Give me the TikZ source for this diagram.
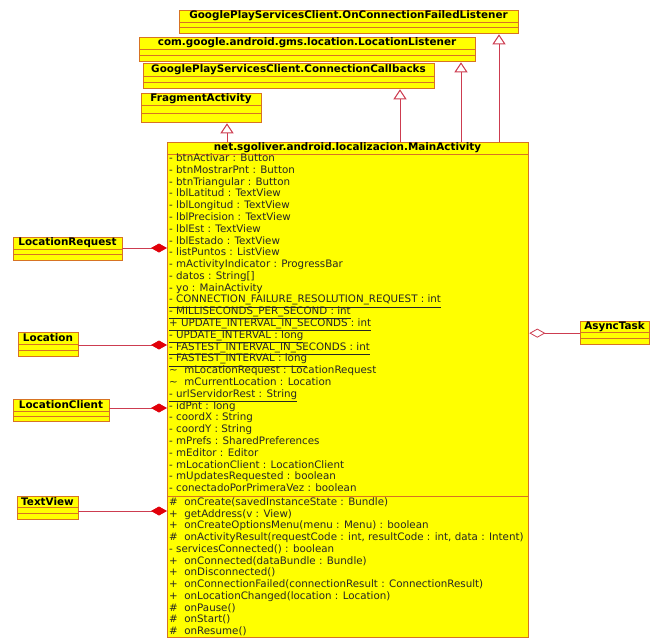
\documentclass[tikz,border=0pt]{standalone}
\usepackage{fontspec}
\setmainfont{DejaVu Sans}
\usetikzlibrary{arrows.meta,calc}
\definecolor{umlfill}{RGB}{255,255,0}
\definecolor{umlline}{RGB}{215,115,35}
\definecolor{conn}{RGB}{205,60,80}
\definecolor{dfill}{RGB}{225,0,10}
\newcommand\umlclass[7]{%
  \node[box, minimum width={#4-#2}, minimum height={#5-#3}] (#1) at (#2,#3) {};
  \node[ttl] (#1t) at ({(#2+#4)/2},{#3+#7/2}) {#6};
  \draw[comp] (#2,{#3+#7}) -- (#4,{#3+#7});
  \draw[comp] (#2,{(#3+#7+#5)/2}) -- (#4,{(#3+#7+#5)/2});
}
\begin{document}
\begin{tikzpicture}[x=1pt,y=-1pt,
  box/.style={draw=umlline, fill=umlfill, line width=1.3pt, anchor=north west, inner sep=0pt, rectangle},
  ttl/.style={font=\fontsize{10.4}{12}\selectfont\bfseries, inner sep=0pt},
  item/.style={font=\fontsize{10.3}{12}\selectfont, text=black!85, inner sep=0pt, anchor=west, text height=7.5pt, text depth=2.5pt},
  comp/.style={draw=umlline, line width=1pt},
  gen/.style={draw=conn, line width=1pt, -{Triangle[open, length=10pt, width=13pt, fill=white]}},
  compo/.style={draw=conn, line width=0.8pt, {Diamond[length=16pt, width=9pt, color=dfill, fill=dfill]}-},
  aggr/.style={draw=conn, line width=0.8pt, {Diamond[open, length=16pt, width=9pt, fill=white]}-},
]
\useasboundingbox[fill=white] (0,0) rectangle (662,640);

% interfaces and superclass
\umlclass{ocfl}{179}{10}{518}{33}{GooglePlayServicesClient.OnConnectionFailedListener}{12}
\umlclass{ll}{139}{37}{475}{61}{com.google.android.gms.location.LocationListener}{12}
\umlclass{cc}{143}{63}{434}{88}{GooglePlayServicesClient.ConnectionCallbacks}{13}
\umlclass{fa}{141}{93}{261}{122}{FragmentActivity}{12}

% associated classes
\umlclass{lr}{13}{237}{122}{260}{LocationRequest}{12}
\umlclass{loc}{18}{332}{78}{356}{Location}{12}
\umlclass{lc}{13}{399}{109}{421}{LocationClient}{12}
\umlclass{tv}{17}{496}{78}{519}{TextView}{11}
\umlclass{at}{580}{321}{649}{344}{AsyncTask}{11}

% main class
\node[box, minimum width=361, minimum height=495] (main) at (167,142) {};
\node[ttl] (maint) at (347.5,148) {net.sgoliver.android.localizacion.MainActivity};
\draw[comp] (main.west |- 0,154) -- (main.east |- 0,154);
\draw[comp] (main.west |- 0,496) -- (main.east |- 0,496);

\foreach \t [count=\i] in {
 {- btnActivar : Button},
 {- btnMostrarPnt : Button},
 {- btnTriangular : Button},
 {- lblLatitud : TextView},
 {- lblLongitud : TextView},
 {- lblPrecision : TextView},
 {- lblEst : TextView},
 {- lblEstado : TextView},
 {- listPuntos : ListView},
 {- mActivityIndicator : ProgressBar},
 {- datos : String[]},
 {- yo : MainActivity},
 {\underline{- CONNECTION\_FAILURE\_RESOLUTION\_REQUEST : int}},
 {\underline{- MILLISECONDS\_PER\_SECOND : int}},
 {\underline{+ UPDATE\_INTERVAL\_IN\_SECONDS : int}},
 {\underline{- UPDATE\_INTERVAL : long}},
 {\underline{- FASTEST\_INTERVAL\_IN\_SECONDS : int}},
 {\underline{- FASTEST\_INTERVAL : long}},
 {\textasciitilde\ \ mLocationRequest : LocationRequest},
 {\textasciitilde\ \ mCurrentLocation : Location},
 {\underline{- urlServidorRest : String}},
 {- idPnt : long},
 {- coordX : String},
 {- coordY : String},
 {- mPrefs : SharedPreferences},
 {- mEditor : Editor},
 {- mLocationClient : LocationClient},
 {- mUpdatesRequested : boolean},
 {- conectadoPorPrimeraVez : boolean}}
 \node[item] (attr\i) at (169,{159+11.79*(\i-1)}) {\t};

\foreach \t [count=\i] in {
 {\#\ \ onCreate(savedInstanceState : Bundle)},
 {+\ \ getAddress(v : View)},
 {+\ \ onCreateOptionsMenu(menu : Menu) : boolean},
 {\#\ \ onActivityResult(requestCode : int, resultCode : int, data : Intent)},
 {- servicesConnected() : boolean},
 {+\ \ onConnected(dataBundle : Bundle)},
 {+\ \ onDisconnected()},
 {+\ \ onConnectionFailed(connectionResult : ConnectionResult)},
 {+\ \ onLocationChanged(location : Location)},
 {\#\ \ onPause()},
 {\#\ \ onStart()},
 {\#\ \ onResume()}}
 \node[item] (meth\i) at (169,{503+11.73*(\i-1)}) {\t};

% generalizations / realizations
\coordinate (g1) at (227,142);
\coordinate (g2) at (400,142);
\coordinate (g3) at (461,142);
\coordinate (g4) at (499,142);
\draw[gen] (g1) -- (g1 |- fa.south);
\draw[gen] (g2) -- (g2 |- cc.south);
\draw[gen] (g3) -- (g3 |- ll.south);
\draw[gen] (g4) -- (g4 |- ocfl.south);

% compositions
\coordinate (lrc) at (122,248);
\coordinate (locc) at (78,345);
\coordinate (lcc) at (109,408);
\coordinate (tvc) at (78,511);
\draw[compo] (main.west |- lrc) -- (lrc);
\draw[compo] (main.west |- locc) -- (locc);
\draw[compo] (main.west |- lcc) -- (lcc);
\draw[compo] (main.west |- tvc) -- (tvc);

% aggregation
\draw[aggr] (main.east |- at.west) -- (at.west);
\end{tikzpicture}
\end{document}
